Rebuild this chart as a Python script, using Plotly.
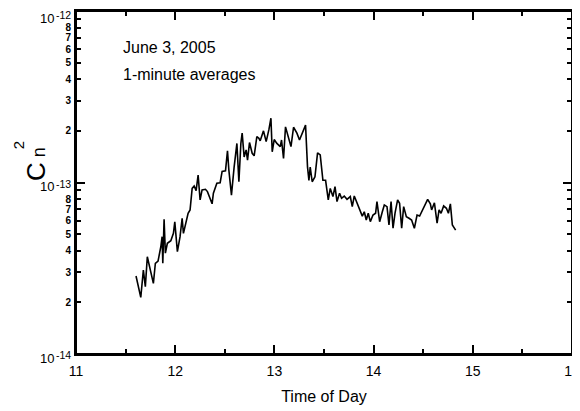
import plotly.graph_objects as go

# Time of day (hours) and Cn^2 in units of 1e-14 m^-2/3
time_h = [11.605, 11.653, 11.679, 11.699, 11.719, 11.747, 11.780, 11.800, 11.827, 11.855,
          11.868, 11.875, 11.888, 11.901, 11.921, 11.956, 11.982, 11.996, 12.022, 12.049,
          12.070, 12.083, 12.103, 12.130, 12.150, 12.171, 12.191, 12.211, 12.231, 12.251,
          12.271, 12.305, 12.325, 12.345, 12.372, 12.385, 12.420, 12.453, 12.473, 12.507,
          12.527, 12.541, 12.567, 12.594, 12.622, 12.642, 12.662, 12.675, 12.695, 12.715,
          12.729, 12.749, 12.776, 12.796, 12.823, 12.844, 12.857, 12.890, 12.917, 12.945,
          12.965, 12.978, 12.998, 13.025, 13.059, 13.072, 13.092, 13.112, 13.139, 13.167,
          13.193, 13.227, 13.253, 13.288, 13.314, 13.334, 13.348, 13.361, 13.381, 13.409,
          13.435, 13.462, 13.489, 13.516, 13.543, 13.563, 13.590, 13.611, 13.631, 13.657,
          13.677, 13.704, 13.732, 13.765, 13.785, 13.805, 13.833, 13.859, 13.886, 13.906,
          13.926, 13.946, 13.967, 13.994, 14.020, 14.034, 14.061, 14.088, 14.108, 14.135,
          14.155, 14.176, 14.196, 14.216, 14.242, 14.262, 14.283, 14.303, 14.330, 14.357,
          14.383, 14.411, 14.438, 14.464, 14.491, 14.519, 14.545, 14.572, 14.585, 14.613,
          14.640, 14.660, 14.680, 14.706, 14.734, 14.754, 14.774, 14.794, 14.814, 14.827]

cn2_e14 = [2.85, 2.14, 3.09, 2.47, 3.69, 3.09, 2.58, 3.38, 3.48, 4.22,
           4.83, 3.38, 6.11, 3.87, 4.42, 4.58, 5.05, 5.89, 3.95, 4.83,
           6.19, 5.05, 5.79, 6.62, 6.92, 9.24, 9.54, 8.97, 11.06, 7.91,
           9.05, 9.13, 8.85, 8.28, 7.51, 8.66, 9.90, 9.97, 11.6, 11.7,
           15.3, 11.8, 8.44, 12.3, 16.9, 10.1, 16.9, 19.4, 14.1, 15.5,
           13.5, 17.1, 14.8, 14.3, 18.5, 18.1, 17.5, 20.0, 17.3, 20.4,
           23.7, 15.1, 17.8, 16.9, 16.2, 17.7, 13.8, 21.1, 18.3, 16.2,
           21.0, 19.4, 17.7, 19.8, 21.6, 12.3, 10.3, 12.3, 10.1, 10.8,
           14.9, 14.5, 10.3, 10.3, 7.91, 9.24, 8.28, 9.45, 7.74, 8.66,
           8.09, 8.34, 7.98, 8.28, 7.23, 8.34, 7.57, 7.07, 6.37, 6.75,
           6.04, 6.62, 5.91, 6.46, 6.62, 7.74, 5.91, 6.75, 7.40, 7.23,
           5.65, 7.74, 5.41, 6.62, 7.91, 7.57, 5.41, 7.23, 6.32, 6.19,
           6.04, 5.41, 6.46, 6.37, 6.92, 7.40, 7.98, 7.51, 6.92, 7.62,
           5.79, 6.92, 6.62, 7.30, 7.07, 6.62, 7.51, 5.65, 5.41, 5.28]

x_ticks = [11, 12, 13, 14, 15, 16]
x_half_ticks = [11.5, 12.5, 13.5, 14.5, 15.5]
y_decades = [-14, -13, -12]
y_labelled_digits = [2, 3, 4, 5, 6, 7, 8]

cn2 = [v * 1e-14 for v in cn2_e14]

# digit-labelled ticks between decades
yvals, ytext = [], []
for d in y_decades[:-1]:
    for m in y_labelled_digits:
        yvals.append(m * 10.0 ** d)
        ytext.append('<b>%d</b>' % m)
y_nine_ticks = [9 * 10.0 ** d for d in y_decades[:-1]]
y_decade_ticks = [10.0 ** d for d in y_decades]

FONT = 'Liberation Sans, Arial, sans-serif'

fig = go.Figure()
fig.add_trace(go.Scatter(x=time_h, y=cn2, mode='lines',
                         line=dict(color='black', width=1.6), showlegend=False,
                         hoverinfo='skip'))
# empty traces so the extra tick-only axes are drawn
for xa, ya in (('x2', 'y'), ('x', 'y2'), ('x', 'y3')):
    fig.add_trace(go.Scatter(x=[], y=[], xaxis=xa, yaxis=ya, mode='lines',
                             showlegend=False, hoverinfo='skip'))

tick_common = dict(ticks='inside', tickwidth=1.5, tickcolor='black',
                   showgrid=False, zeroline=False, automargin=False)

# the page body adds an 8px offset, so the figure is 8px smaller on each side
fig.update_layout(
    width=572, height=403,
    margin=dict(l=68, r=8, t=3, b=57),
    paper_bgcolor='white', plot_bgcolor='white',
    font=dict(family=FONT, color='black'),
    xaxis=dict(range=[11, 16], tickvals=x_ticks, ticklen=9, mirror='ticks',
               showline=True, linecolor='black', linewidth=2,
               tickfont=dict(size=14), ticklabelstandoff=3,
               title=dict(text='Time of Day', font=dict(size=16), standoff=13),
               **tick_common),
    xaxis2=dict(range=[11, 16], tickvals=x_half_ticks, ticklen=5, mirror='ticks',
                overlaying='x', anchor='y', side='bottom', showticklabels=False,
                showline=False, **tick_common),
    yaxis=dict(type='log', range=[-14, -12], tickvals=yvals, ticktext=ytext,
               ticklen=5, mirror='ticks', showline=True, linecolor='black',
               linewidth=2, tickfont=dict(size=10), ticklabelstandoff=1,
               **tick_common),
    yaxis2=dict(type='log', range=[-14, -12], tickvals=y_decade_ticks, ticklen=9,
                mirror='ticks', overlaying='y', anchor='x', side='left',
                showticklabels=False, showline=False, **tick_common),
    yaxis3=dict(type='log', range=[-14, -12], tickvals=y_nine_ticks, ticklen=5,
                mirror='ticks', overlaying='y', anchor='x', side='left',
                showticklabels=False, showline=False, **tick_common),
)

# plot frame
fig.add_shape(type='rect', xref='paper', yref='paper', x0=0, x1=1, y0=0, y1=1,
              line=dict(color='black', width=2), layer='above')

# decade labels: "10" with a raised exponent
for d in y_decades:
    top = (d == y_decades[-1])
    fig.add_annotation(text='10', xref='paper', yref='y', x=0, y=d,
                       xanchor='right', yanchor='middle', xshift=-21,
                       yshift=-7 if top else -4, borderpad=0,
                       showarrow=False, font=dict(size=13))
    fig.add_annotation(text='%d' % d, xref='paper', yref='y', x=0, y=d,
                       xanchor='right', yanchor='middle', xshift=-4,
                       yshift=-4 if top else -1, borderpad=0,
                       showarrow=False, font=dict(size=10.5))

# axis title C_n^2 (rotated)
fig.add_annotation(text='C', xref='paper', yref='paper', x=-0.115, y=0.5335,
                   textangle=-90, showarrow=False, font=dict(size=26))
fig.add_annotation(text='n', xref='paper', yref='paper', x=-0.098, y=0.589,
                   textangle=-90, showarrow=False, font=dict(size=18))
fig.add_annotation(text='2', xref='paper', yref='paper', x=-0.138, y=0.609,
                   textangle=-90, showarrow=False, font=dict(size=15))

fig.add_annotation(text='June 3, 2005', xref='paper', yref='paper', x=0.09, y=0.895,
                   xanchor='left', yanchor='middle', showarrow=False, font=dict(size=16))
fig.add_annotation(text='1-minute averages', xref='paper', yref='paper', x=0.09, y=0.816,
                   xanchor='left', yanchor='middle', showarrow=False, font=dict(size=16))

fig.write_html('out.html')
